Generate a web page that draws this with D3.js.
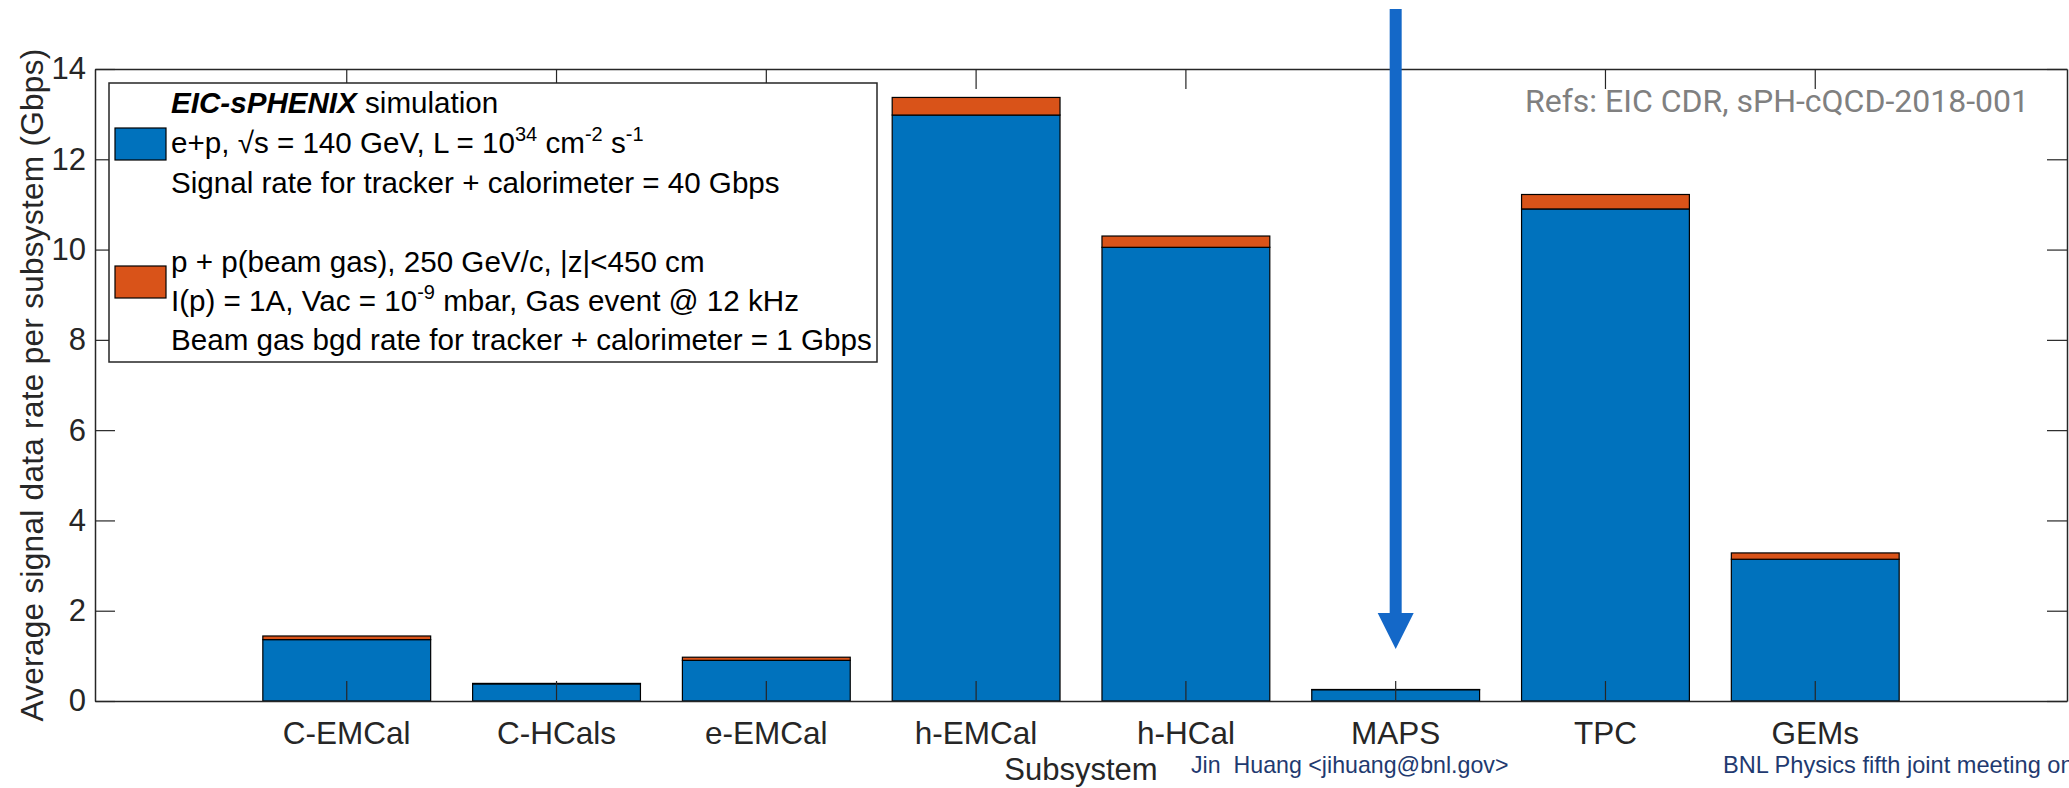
<!DOCTYPE html>
<html><head><meta charset="utf-8">
<script src="https://cdn.jsdelivr.net/npm/d3@7"></script>
<style>
body{margin:0;background:#fff;overflow:hidden;}
svg{display:block;font-family:"Liberation Sans",Arial,sans-serif;}
</style>
</head><body><svg id="c" width="2069" height="788"></svg>
<script>
const categories = ["C-EMCal","C-HCals","e-EMCal","h-EMCal","h-HCal","MAPS","TPC","GEMs"];
const epSignal   = [1.36, 0.38, 0.90, 12.98, 10.05, 0.25, 10.90, 3.14];
const beamGas    = [0.08, 0.01, 0.07, 0.39, 0.25, 0.005, 0.32, 0.14];
const yTicks     = [0, 2, 4, 6, 8, 10, 12, 14];
const seriesColors = ["#0072BD", "#D95319"];

const W = 2069, H = 788;
const L = 95, R = 2067, T = 69, B = 701;
const axisColor = "#262626";

const svg = d3.select("#c");
const x = d3.scaleBand().domain(categories).range([L, R]).paddingInner(0.2).paddingOuter(0.8);
const y = d3.scaleLinear().domain([0, 14]).range([B, T]);

const stackData = categories.map((c, i) => ({cat: c, ep: epSignal[i], gas: beamGas[i]}));
const stack = d3.stack().keys(["ep", "gas"])(stackData);

svg.append("g").selectAll("g").data(stack).join("g")
  .attr("fill", (d, i) => seriesColors[i])
  .selectAll("rect").data(d => d).join("rect")
  .attr("x", d => x(d.data.cat))
  .attr("width", x.bandwidth())
  .attr("y", d => y(d[1]))
  .attr("height", d => y(d[0]) - y(d[1]))
  .attr("stroke", "#000").attr("stroke-width", 1.2);

function styleAxis(g) {
  g.selectAll(".domain").attr("stroke", axisColor).attr("stroke-width", 1.5);
  g.selectAll(".tick line").attr("stroke", axisColor).attr("stroke-width", 1.2);
  g.selectAll("text").attr("fill", axisColor).attr("font-family", "'Liberation Sans',Arial,sans-serif");
}

svg.append("g").attr("transform", `translate(0,${B})`)
  .call(d3.axisBottom(x).tickSizeInner(-20).tickSizeOuter(0).tickPadding(21))
  .call(styleAxis).selectAll("text").attr("font-size", 31.5);
svg.append("g").attr("transform", `translate(0,${T})`)
  .call(d3.axisTop(x).tickSizeInner(-20).tickSizeOuter(0).tickFormat(""))
  .call(styleAxis);
svg.append("g").attr("transform", `translate(${L},0)`)
  .call(d3.axisLeft(y).tickValues(yTicks).tickSizeInner(-20).tickSizeOuter(0).tickPadding(9))
  .call(styleAxis).selectAll("text").attr("font-size", 31);
svg.append("g").attr("transform", `translate(${R},0)`)
  .call(d3.axisRight(y).tickValues(yTicks).tickSizeInner(-20).tickSizeOuter(0).tickFormat(""))
  .call(styleAxis);

// axis titles
svg.append("text").attr("transform", `translate(43,${(T + B) / 2}) rotate(-90)`)
  .attr("text-anchor", "middle").attr("font-size", 31.5).attr("fill", axisColor)
  .attr("letter-spacing", 0.3)
  .text("Average signal data rate per subsystem (Gbps)");
svg.append("text").attr("x", (L + R) / 2).attr("y", 780)
  .attr("text-anchor", "middle").attr("font-size", 31).attr("fill", axisColor)
  .text("Subsystem");

// refs
svg.append("text").attr("x", 2029).attr("y", 112).attr("text-anchor", "end")
  .attr("font-family", "Roboto, sans-serif").attr("font-size", 32).attr("fill", "#808080")
  .text("Refs: EIC CDR, sPH-cQCD-2018-001");

// legend
const lg = svg.append("g");
lg.append("rect").attr("x", 109).attr("y", 83).attr("width", 768).attr("height", 279)
  .attr("fill", "#fff").attr("stroke", axisColor).attr("stroke-width", 1.5);
lg.append("rect").attr("x", 115).attr("y", 128).attr("width", 51).attr("height", 32)
  .attr("fill", seriesColors[0]).attr("stroke", "#000").attr("stroke-width", 1.2);
lg.append("rect").attr("x", 115).attr("y", 266).attr("width", 51).attr("height", 32)
  .attr("fill", seriesColors[1]).attr("stroke", "#000").attr("stroke-width", 1.2);

const legendLines = [
  {y: 113, segs: [["EIC-sPHENIX", "b"], [" simulation", ""]]},
  {y: 153, segs: [["e+p, \u221As = 140 GeV, L = 10", ""], ["34", "sup"], [" cm", ""], ["-2", "sup"], [" s", ""], ["-1", "sup"]]},
  {y: 193, segs: [["Signal rate for tracker + calorimeter = 40 Gbps", ""]]},
  {y: 272, segs: [["p + p(beam gas), 250 GeV/c, |z|<450 cm", ""]]},
  {y: 311, segs: [["I(p) = 1A, Vac = 10", ""], ["-9", "sup"], [" mbar, Gas event @ 12 kHz", ""]]},
  {y: 350, segs: [["Beam gas bgd rate for tracker + calorimeter = 1 Gbps", ""]]}
];
legendLines.forEach(line => {
  const t = lg.append("text").attr("x", 171).attr("y", line.y).attr("font-size", 29.6)
    .attr("fill", "#000").style("white-space", "pre");
  let prevSup = false;
  line.segs.forEach(([s, k]) => {
    const ts = t.append("tspan").text(s);
    if (k === "b") ts.attr("font-weight", "bold").attr("font-style", "italic");
    if (k === "sup") { ts.attr("font-size", 20).attr("dy", -12); prevSup = true; }
    else if (prevSup) { ts.attr("dy", 12); prevSup = false; }
  });
});

// arrow pointing to MAPS
const ax = x("MAPS") + x.bandwidth() / 2;
const arrowColor = "#1468C8";
svg.append("line").attr("x1", ax).attr("x2", ax).attr("y1", 9).attr("y2", 616)
  .attr("stroke", arrowColor).attr("stroke-width", 12);
svg.append("path").attr("d", `M${ax - 18},613 L${ax + 18},613 L${ax},649 Z`).attr("fill", arrowColor);

// footer
svg.append("text").attr("x", 1191).attr("y", 773).attr("font-size", 23.2).attr("fill", "#1F3A70")
  .style("white-space", "pre").text("Jin  Huang <jihuang@bnl.gov>");
svg.append("text").attr("x", 1723).attr("y", 773).attr("font-size", 23.6).attr("fill", "#1F3A70")
  .style("white-space", "pre").text("BNL Physics fifth joint meeting on");
</script>
</body></html>
